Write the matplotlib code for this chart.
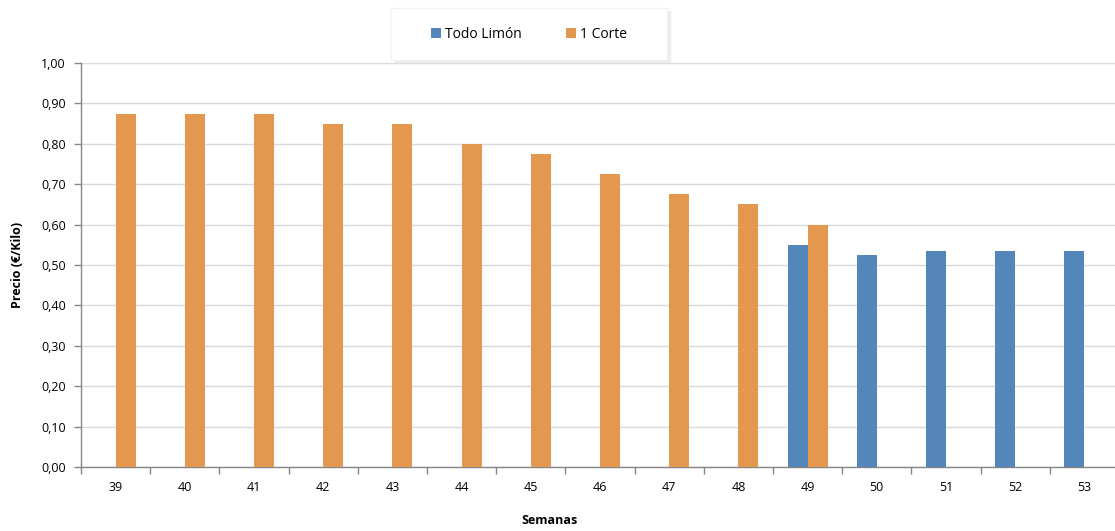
import numpy as np
import matplotlib.pyplot as plt
from matplotlib.ticker import FixedLocator, NullFormatter

semanas = ["39", "40", "41", "42", "43", "44", "45", "46", "47", "48", "49", "50", "51", "52", "53"]
todo_limon = [np.nan] * 10 + [0.55, 0.525, 0.535, 0.535, 0.535]
un_corte = [0.875, 0.875, 0.875, 0.85, 0.85, 0.80, 0.775, 0.725, 0.675, 0.65, 0.60,
            np.nan, np.nan, np.nan, np.nan]

azul = "#5586B9"
naranja = "#E4984F"
gris = "#868686"

plt.rcParams['font.family'] = ['Open Sans', 'DejaVu Sans']

fig = plt.figure(figsize=(11.15, 5.31), dpi=100)
# el eje derecho queda un poco fuera del recorte, como en el original
ax = fig.add_axes([81 / 1115, 1 - 467 / 531, 1038 / 1115, 404 / 531])

x = np.arange(len(semanas))
w = 0.29
ax.bar(x - w / 2, todo_limon, w, color=azul, label="Todo Limón", zorder=3)
ax.bar(x + w / 2, un_corte, w, color=naranja, label="1 Corte", zorder=3)

ax.set_xlim(-0.5, len(semanas) - 0.5)
ax.set_ylim(0, 1.0)
ax.set_yticks(np.arange(0, 1.01, 0.1))
ax.set_yticklabels([f"{v:.2f}".replace(".", ",") for v in np.arange(0, 1.01, 0.1)], fontsize=9)
ax.yaxis.grid(True, color="#D9D9D9", linewidth=1, zorder=0)

ax.set_xticks(x)
ax.set_xticklabels(semanas, fontsize=9)
ax.tick_params(axis="x", which="major", length=0, pad=10)
ax.xaxis.set_minor_locator(FixedLocator(np.arange(-0.5, len(semanas), 1)))
ax.xaxis.set_minor_formatter(NullFormatter())
ax.tick_params(axis="x", which="minor", length=5, color=gris, width=1)
ax.tick_params(axis="y", length=5, color=gris, width=1, pad=6)

for s in ["top", "right"]:
    ax.spines[s].set_visible(False)
for s in ["left", "bottom"]:
    ax.spines[s].set_color(gris)
    ax.spines[s].set_linewidth(1)

fig.text(18 / 1115, 1 - 265 / 531, "Precio (€/Kilo)", rotation=90, ha="center", va="center",
         fontsize=9, fontweight="bold")
fig.text(549 / 1115, 1 - 520 / 531, "Semanas", ha="center", va="center",
         fontsize=9, fontweight="bold")

leg = fig.legend(loc="center", bbox_to_anchor=(529 / 1115, 1 - 34 / 531), ncol=2,
                 fontsize=10, frameon=True, fancybox=False, shadow={"color": "#EDEDED", "alpha": 1},
                 handlelength=0.7, handleheight=0.7, handletextpad=0.3,
                 columnspacing=3.2, borderpad=1.3, borderaxespad=0)
leg.get_frame().set_edgecolor("#F2F2F2")
leg.get_frame().set_linewidth(1)
leg._legend_box.set_width(240)

fig.savefig("out.png", dpi=100)
